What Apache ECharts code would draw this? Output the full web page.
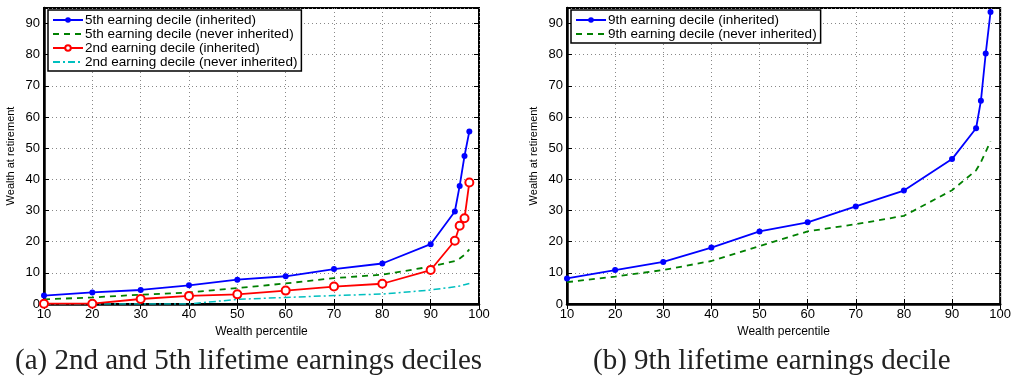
<!DOCTYPE html>
<html>
<head>
<meta charset="utf-8">
<script src="https://cdn.jsdelivr.net/npm/echarts@6/dist/echarts.min.js"></script>
<style>
  html, body { margin: 0; padding: 0; background: #fff; }
  #chart { width: 1014px; height: 378px; }
</style>
</head>
<body>
<div id="chart"></div>
<script>
// wealth percentiles where the model is evaluated
const percentiles = [10, 20, 30, 40, 50, 60, 70, 80, 90, 95, 96, 97, 98];

// panel (a)
const fifthInherited = [2.7, 3.7, 4.5, 6.0, 7.8, 8.9, 11.2, 13.0, 19.2, 29.7, 37.9, 47.5, 55.4];
const fifthNever = [1.5, 2.1, 3.0, 3.7, 5.1, 6.6, 8.3, 9.4, 12.0, 13.8, 14.6, 15.8, 17.5];
const secondInherited = [0.1, 0.1, 1.6, 2.6, 3.1, 4.3, 5.6, 6.5, 10.9, 20.3, 25.1, 27.5, 39.0];
const secondNever = [0, 0, 0, 0, 1.5, 2.1, 2.7, 3.2, 4.5, 5.5, 5.8, 6.2, 6.6];

// panel (b)
const ninthInherited = [8.2, 10.9, 13.5, 18.1, 23.3, 26.2, 31.3, 36.4, 46.5, 56.4, 65.2, 80.4, 93.7];
const ninthNever = [7.0, 8.8, 10.9, 13.8, 18.6, 23.3, 25.6, 28.3, 36.5, 42.9, 45.5, 48.8, 52.2];

const captionA = '(a) 2nd and 5th lifetime earnings deciles';
const captionB = '(b) 9th lifetime earnings decile';

const pairs = vals => percentiles.map((p, i) => [p, vals[i]]);

const FONT = 'Liberation Sans, Arial, sans-serif';
const grids = [
  { left: 44, top: 8, width: 435, height: 296 },
  { left: 567, top: 8, width: 434, height: 296 }
];

function mainX(idx) {
  return {
    type: 'value', gridIndex: idx, min: 10, max: 100, interval: 10,
    name: 'Wealth percentile', nameLocation: 'middle', nameGap: 20,
    nameTextStyle: { fontFamily: FONT, fontSize: 12, color: '#000' },
    axisLine: { show: true, onZero: false, lineStyle: { color: '#000', width: 2.5 } },
    axisTick: { show: true, inside: true, length: 5, lineStyle: { color: '#000' } },
    axisLabel: { fontFamily: FONT, fontSize: 13, color: '#000', margin: 4 },
    splitLine: { show: true, lineStyle: { color: '#888', type: [1, 3], width: 1 } }
  };
}
function topX(idx) {
  return {
    type: 'value', gridIndex: idx, position: 'top', min: 10, max: 100, interval: 10,
    axisLine: { show: false },
    axisTick: { show: true, inside: true, length: 5, lineStyle: { color: '#000' } },
    axisLabel: { show: false }, splitLine: { show: false }
  };
}
function mainY(idx) {
  return {
    type: 'value', gridIndex: idx, min: 0, max: 95, interval: 10,
    name: 'Wealth at retirement', nameLocation: 'middle', nameGap: 28,
    nameTextStyle: { fontFamily: FONT, fontSize: 11, color: '#000' },
    axisLine: { show: true, onZero: false, lineStyle: { color: '#000', width: 2.5 } },
    axisTick: { show: true, inside: true, length: 5, lineStyle: { color: '#000' } },
    axisLabel: { fontFamily: FONT, fontSize: 13, color: '#000', margin: 4, showMaxLabel: false },
    splitLine: { show: true, lineStyle: { color: '#888', type: [1, 3], width: 1 } }
  };
}
function rightY(idx) {
  return {
    type: 'value', gridIndex: idx, position: 'right', min: 0, max: 95, interval: 10,
    axisLine: { show: false },
    axisTick: { show: true, inside: true, length: 5, lineStyle: { color: '#000' } },
    axisLabel: { show: false }, splitLine: { show: false }
  };
}

function lineSeries(name, vals, axis, color, opts) {
  return Object.assign({
    name: name, type: 'line', data: pairs(vals),
    xAxisIndex: axis, yAxisIndex: axis,
    lineStyle: { color: color, width: 1.8 },
    itemStyle: { color: color },
    symbol: 'none', animation: false, z: 3
  }, opts);
}

const legendBase = {
  orient: 'vertical', left: 48, top: 10,
  backgroundColor: '#fff', borderColor: '#000', borderWidth: 1.5,
  padding: [3, 4, 2, 4], itemGap: 0, itemWidth: 30, itemHeight: 7,
  textStyle: { fontFamily: FONT, fontSize: 13.5, color: '#000', padding: [0, 0, 0, -3] }
};
// dashed entries carry no marker
const noMark = { itemStyle: { opacity: 0 } };

const option = {
  animation: false,
  backgroundColor: '#fff',
  grid: grids.map(g => Object.assign({ show: true, borderColor: '#000', borderWidth: 2, backgroundColor: 'transparent' }, g)),
  xAxis: [mainX(0), mainX(1), topX(0), topX(1)],
  yAxis: [mainY(0), mainY(1), rightY(0), rightY(1)],
  legend: [
    Object.assign({}, legendBase, {
      data: [
        { name: '5th earning decile (inherited)' },
        Object.assign({ name: '5th earning decile (never inherited)' }, noMark),
        { name: '2nd earning decile (inherited)' },
        Object.assign({ name: '2nd earning decile (never inherited)' }, noMark)
      ]
    }),
    Object.assign({}, legendBase, {
      left: 571,
      data: [
        { name: '9th earning decile (inherited)' },
        Object.assign({ name: '9th earning decile (never inherited)' }, noMark)
      ]
    })
  ],
  series: [
    lineSeries('5th earning decile (never inherited)', fifthNever, 0, '#008000',
      { lineStyle: { color: '#008000', width: 1.8, type: [6, 5] } }),
    lineSeries('2nd earning decile (never inherited)', secondNever, 0, '#00bfbf',
      { lineStyle: { color: '#00bfbf', width: 1.5, type: [7, 3, 2, 3] } }),
    lineSeries('2nd earning decile (inherited)', secondInherited, 0, '#ff0000',
      { symbol: 'emptyCircle', symbolSize: 8,
        itemStyle: { color: '#ff0000', borderColor: '#ff0000', borderWidth: 1.5 } }),
    lineSeries('5th earning decile (inherited)', fifthInherited, 0, '#0000ff',
      { symbol: 'circle', symbolSize: 6 }),
    lineSeries('9th earning decile (never inherited)', ninthNever, 1, '#008000',
      { lineStyle: { color: '#008000', width: 1.8, type: [6, 5] } }),
    lineSeries('9th earning decile (inherited)', ninthInherited, 1, '#0000ff',
      { symbol: 'circle', symbolSize: 6 })
  ],
  graphic: [
    { type: 'text', left: 15, top: 347,
      style: { text: captionA, fontFamily: 'Liberation Serif, serif', fontSize: 29, fill: '#222' } },
    { type: 'text', left: 593, top: 347,
      style: { text: captionB, fontFamily: 'Liberation Serif, serif', fontSize: 29, fill: '#222' } }
  ]
};

const chart = echarts.init(document.getElementById('chart'), null, { renderer: 'canvas' });
chart.setOption(option);
</script>
</body>
</html>
